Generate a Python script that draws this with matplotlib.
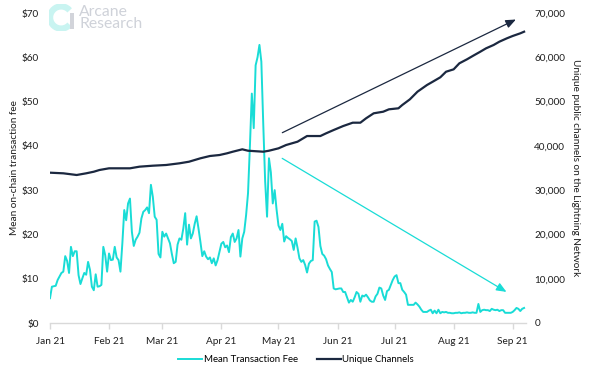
import matplotlib
matplotlib.use("Agg")
import matplotlib.pyplot as plt
import matplotlib.dates as mdates
import matplotlib.ticker as mticker
from matplotlib.patches import Arc, Rectangle
import datetime as dt

# ---- data (days after 2021-01-01) ----
fee_days = [0, 1, 3, 4, 6, 7, 8, 9, 10, 11, 12, 13, 14, 15, 16, 17, 18, 19, 20, 21,
            22, 23, 24, 25, 26, 27, 28, 29, 30, 31, 32, 33, 34, 35, 36, 37, 38, 39, 40, 41,
            42, 43, 44, 45, 46, 47, 48, 49, 50, 51, 52, 53, 54, 55, 56, 57, 58, 59, 60, 61,
            62, 63, 64, 65, 66, 67, 68, 69, 70, 71, 72, 73, 74, 75, 76, 77, 78, 79, 80, 81,
            82, 83, 84, 85, 86, 87, 88, 89, 90, 91, 92, 93, 94, 95, 96, 97, 98, 99, 100, 101,
            102, 103, 104, 105, 106, 107, 108, 109, 110, 111, 112, 113, 114, 115, 116, 117, 118, 119, 120, 121,
            122, 123, 124, 125, 126, 127, 128, 129, 130, 131, 132, 133, 134, 135, 136, 137, 138, 139, 140, 141,
            142, 143, 144, 145, 146, 147, 148, 149, 150, 151, 152, 153, 154, 155, 156, 157, 158, 159, 160, 161,
            162, 163, 164, 165, 166, 167, 168, 169, 170, 171, 172, 173, 174, 175, 176, 177, 178, 179, 180, 181,
            182, 183, 184, 185, 186, 187, 188, 189, 190, 191, 192, 193, 194, 195, 196, 197, 198, 199, 200, 201,
            202, 203, 204, 205, 206, 207, 208, 209, 210, 211, 212, 213, 214, 215, 216, 217, 218, 219, 220, 221,
            222, 223, 224, 225, 226, 227, 228, 229, 230, 231, 232, 233, 234, 235, 236, 237, 238, 239, 240, 241,
            242, 243, 244, 245, 246, 247, 248, 249]
fee_values = [5.6, 8.2, 8.4, 9.7, 11.3, 11.6, 15.1, 14.0, 11.3, 17.2, 15.1, 16.2, 16.2, 10.8, 8.8, 10.1, 11.3, 10.9, 13.8, 12.0,
              8.2, 7.4, 11.0, 8.2, 8.3, 8.6, 17.2, 15.3, 11.6, 15.7, 14.2, 14.3, 17.2, 14.8, 14.2, 11.6, 18.0, 25.5, 23.2, 27.0,
              28.1, 20.6, 17.4, 18.8, 19.5, 20.4, 23.6, 25.1, 25.5, 26.1, 24.8, 31.2, 28.5, 24.0, 23.3, 15.6, 14.8, 20.6, 19.5, 20.2,
              19.1, 18.0, 15.6, 13.5, 13.8, 17.7, 19.1, 18.8, 21.3, 24.8, 17.7, 22.2, 19.1, 20.2, 22.4, 24.1, 21.3, 18.3, 15.1, 16.2,
              15.0, 14.4, 14.8, 13.5, 14.6, 13.0, 14.2, 16.0, 17.9, 18.3, 17.1, 17.5, 16.0, 19.4, 20.2, 18.3, 19.1, 21.0, 15.0, 19.1,
              20.6, 24.4, 29.3, 40.0, 51.8, 44.0, 58.2, 60.0, 62.8, 59.0, 45.0, 32.0, 24.0, 37.2, 34.0, 27.0, 30.0, 25.6, 22.0, 21.0,
              22.4, 18.4, 19.6, 19.2, 18.9, 18.5, 16.5, 19.1, 17.0, 14.6, 13.8, 14.2, 13.1, 11.4, 13.4, 14.0, 14.2, 22.9, 23.1, 21.7,
              17.4, 15.6, 15.2, 14.4, 13.0, 12.2, 11.5, 7.8, 7.6, 7.7, 7.8, 7.8, 7.0, 7.0, 5.8, 4.6, 5.2, 4.8, 5.8, 7.0,
              6.6, 4.8, 6.2, 6.0, 6.4, 5.8, 5.1, 4.8, 4.8, 6.0, 6.6, 8.0, 7.8, 6.2, 5.2, 7.2, 7.5, 8.6, 9.7, 10.5,
              10.8, 9.0, 9.0, 7.5, 7.0, 6.4, 4.1, 4.1, 4.1, 4.1, 4.6, 4.2, 3.7, 3.0, 2.5, 2.5, 2.5, 2.8, 3.0, 2.2,
              2.8, 2.2, 3.0, 2.2, 2.5, 2.4, 2.5, 2.3, 2.3, 2.2, 2.2, 2.3, 2.3, 2.4, 2.2, 2.3, 2.3, 2.4, 2.3, 2.3,
              2.4, 2.3, 2.3, 4.3, 2.5, 2.9, 3.0, 2.9, 2.9, 2.7, 3.2, 3.0, 2.9, 3.0, 2.7, 2.9, 2.9, 2.3, 2.3, 2.3,
              2.3, 2.5, 2.9, 3.4, 3.2, 2.7, 3.2, 3.4]

ch_days = [0, 7, 14, 19, 23, 26, 31, 37, 42, 47, 54, 61, 68, 73, 79, 84, 89, 93, 96, 101,
           104, 112, 115, 120, 124, 130, 135, 142, 145, 149, 154, 159, 163, 166, 170, 175, 178, 183, 185, 189,
           193, 198, 201, 205, 208, 212, 215, 219, 222, 226, 229, 233, 236, 240, 243, 247, 249]
ch_values = [33940, 33800, 33420, 33800, 34160, 34550, 34930, 34930, 34930, 35300, 35520, 35680, 36060, 36420, 37190, 37710, 37930, 38320, 38680, 39220,
             38900, 38680, 38900, 39440, 40190, 40940, 42220, 42220, 42830, 43580, 44480, 45230, 45230, 46220, 47350, 47710, 48250, 48480, 49220, 50500,
             52230, 53740, 54480, 55480, 56740, 57280, 58640, 59540, 60290, 61260, 62020, 62780, 63520, 64290, 64810, 65410, 65780]

fee_ticks = [0, 10, 20, 30, 40, 50, 60, 70]
ch_ticks = [0, 10000, 20000, 30000, 40000, 50000, 60000, 70000]
# trend arrows: (day, fee-axis value)
up_arrow = [(120.7, 42.7), (246.0, 68.8)]
down_arrow = [(120.7, 37.5), (241.0, 6.7)]

series_names = ["Mean Transaction Fee", "Unique Channels"]

CYAN = "#19dcd6"
NAVY = "#1b2840"
GREY_TXT = "#1e1e1e"
FS = 7.2
LFS = 6.9

plt.rcParams['font.family'] = ['Lato', 'DejaVu Sans']

base = mdates.date2num(dt.datetime(2021, 1, 1))
fx = [base + d for d in fee_days]
cx = [base + d for d in ch_days]

fig = plt.figure(figsize=(6.11, 3.70), dpi=100)
ax = fig.add_axes([50/611, 1 - 323/370, 476/611, 310/370])
ax2 = ax.twinx()

ax.plot(fx, fee_values, color=CYAN, lw=1.4, zorder=3, label=series_names[0])
ax2.plot(cx, ch_values, color=NAVY, lw=1.6, zorder=3, label=series_names[1])

ax.set_xlim(base, base + 250)
ax.set_ylim(0, 70)
ax2.set_ylim(0, 70000)
ax.set_yticks(fee_ticks)
ax2.set_yticks(ch_ticks)
ax.yaxis.set_major_formatter(mticker.FuncFormatter(lambda v, p: f"${v:.0f}"))
ax2.yaxis.set_major_formatter(mticker.FuncFormatter(lambda v, p: f"{v:,.0f}"))

ax.xaxis.set_major_locator(mdates.MonthLocator())
ax.xaxis.set_major_formatter(mdates.DateFormatter("%b %y"))

for a in (ax, ax2):
    for s in a.spines.values():
        s.set_visible(False)
    a.patch.set_visible(False)
ax.spines['bottom'].set_visible(True)
ax.spines['bottom'].set_color("#d9d9d9")
ax.spines['bottom'].set_linewidth(1.0)

ax.tick_params(axis='x', colors="#d9d9d9", length=4, width=1, labelcolor=GREY_TXT, labelsize=FS, pad=6)
ax.tick_params(axis='y', length=0, labelsize=FS, labelcolor=GREY_TXT, pad=8)
ax2.tick_params(axis='y', length=0, labelsize=FS, labelcolor=GREY_TXT, pad=6)

ax.set_ylabel("Mean on-chain transaction fee", fontsize=FS, color=GREY_TXT)
ax.yaxis.set_label_coords(-0.066, 0.5)
ax2.set_ylabel("Unique public channels on the Lightning Network", fontsize=FS, color=GREY_TXT,
               rotation=270, va="center")
ax2.yaxis.set_label_coords(1.103, 0.5)

# trend arrows
ax.annotate("", xy=(base + up_arrow[1][0], up_arrow[1][1]), xytext=(base + up_arrow[0][0], up_arrow[0][1]),
            arrowprops=dict(arrowstyle="-|>,head_length=0.6,head_width=0.25", color=NAVY, lw=0.9),
            zorder=5)
ax.annotate("", xy=(base + down_arrow[1][0], down_arrow[1][1]), xytext=(base + down_arrow[0][0], down_arrow[0][1]),
            arrowprops=dict(arrowstyle="-|>,head_length=0.6,head_width=0.25", color=CYAN, lw=0.9),
            zorder=5)

# legend
h1 = plt.Line2D([], [], color=CYAN, lw=1.4)
h2 = plt.Line2D([], [], color=NAVY, lw=1.6)
fig.legend([h1, h2], series_names, loc="center", bbox_to_anchor=(296/611, 1 - 360/370),
           ncol=2, frameon=False, fontsize=LFS, handlelength=2.5, handletextpad=0.15,
           columnspacing=2.0)

# watermark logo
logo_ax = fig.add_axes([49/611, 1 - 31/370, 27/611, 27/370])
logo_ax.set_xlim(0, 1)
logo_ax.set_ylim(0, 1)
logo_ax.axis('off')
logo_ax.add_patch(Arc((0.45, 0.5), 0.82, 0.82, theta1=40, theta2=320, lw=4.5, color="#c9f4f1"))
logo_ax.add_patch(Rectangle((0.78, 0.08), 0.14, 0.6, color="#d2d4da", lw=0))
fig.text(79/611, 1 - 12/370, "Arcane", fontsize=11.3, color="#cfd2d9", va="center", ha="left")
fig.text(79/611, 1 - 24.5/370, "Research", fontsize=11.3, color="#cfd2d9", va="center", ha="left")

fig.savefig("out.png", dpi=100, facecolor="white")
